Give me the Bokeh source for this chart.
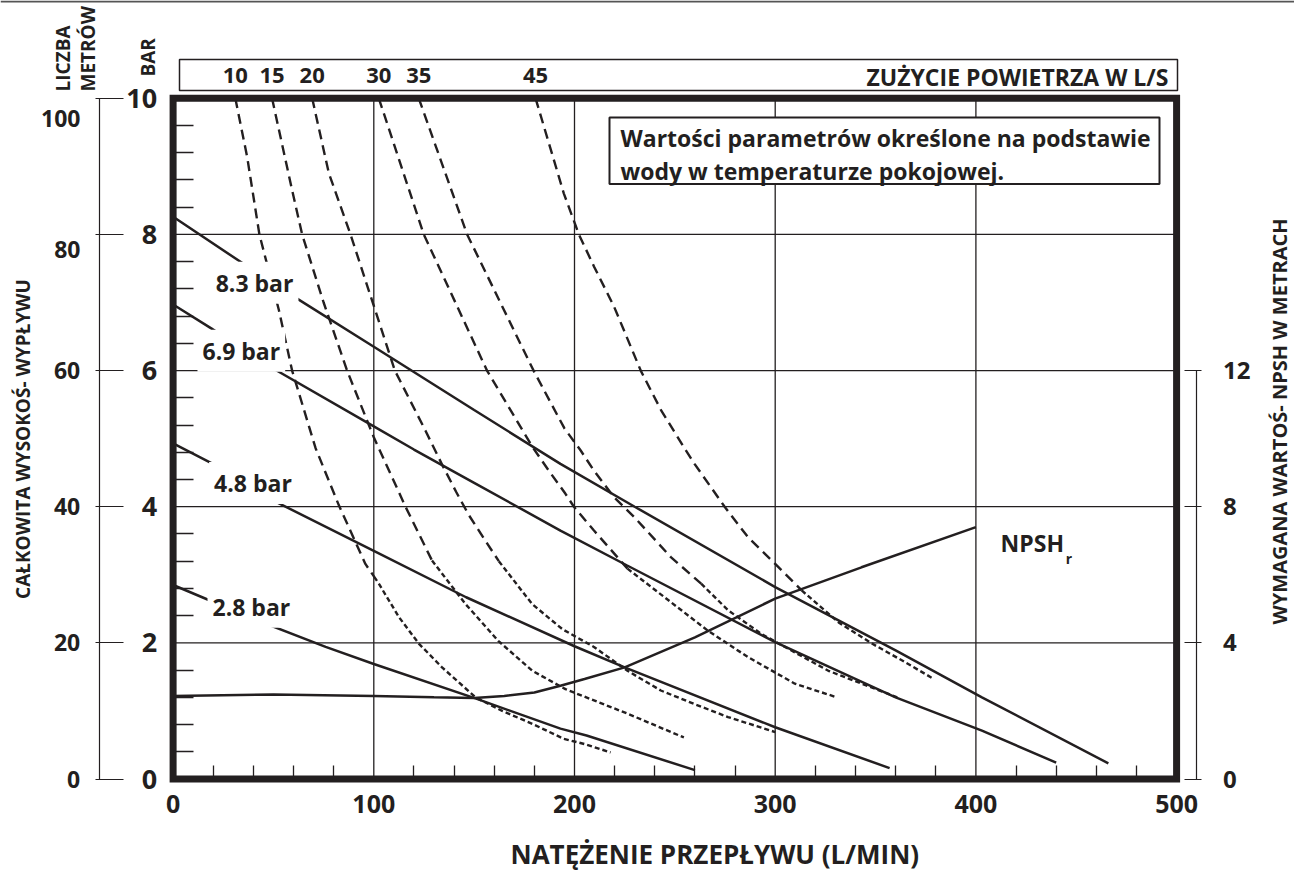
import math
from bokeh.plotting import figure
from bokeh.models import Range1d, LinearAxis, FixedTicker, Label, BoxAnnotation, Span
from bokeh.embed import file_html
from bokeh.resources import INLINE

INK = "#231f20"
FONT = "Open Sans"

# ---------------- data ----------------
x_ticks = [0, 100, 200, 300, 400, 500]
bar_ticks = [0, 2, 4, 6, 8, 10]
metre_ticks = [0, 20, 40, 60, 80, 100]
npsh_ticks = [0, 4, 8, 12]

pressure_labels = ["8.3 bar", "6.9 bar", "4.8 bar", "2.8 bar"]
flow_83 = [0, 36, 60, 100, 150, 193, 230, 300, 360, 403, 466]
head_83 = [8.26, 7.55, 7.09, 6.35, 5.42, 4.63, 4.00, 2.82, 1.89, 1.20, 0.23]
flow_69 = [0, 19, 44, 100, 120, 150, 193, 226, 300, 360, 403, 440]
head_69 = [6.97, 6.62, 6.13, 5.18, 4.84, 4.35, 3.65, 3.14, 2.01, 1.20, 0.71, 0.24]
flow_48 = [0, 21, 50, 100, 146, 200, 225, 300, 357]
head_48 = [4.93, 4.61, 4.09, 3.35, 2.67, 1.95, 1.64, 0.76, 0.16]
flow_28 = [0, 14.5, 38.5, 76, 100, 151, 193, 206, 260]
head_28 = [2.85, 2.67, 2.37, 1.94, 1.69, 1.18, 0.74, 0.64, 0.13]

air_values = [10, 15, 20, 30, 35, 45]  # air consumption, l/s
air_flow_10 = [31, 36.9, 43, 52.7, 59.3, 71, 82.6, 95.8, 102.5, 112.5, 122.4, 134, 150.7, 164, 179, 194.7, 205.5, 218]
air_head_10 = [10, 9.14, 8.0, 6.89, 6.0, 4.86, 4.02, 3.16, 2.87, 2.38, 1.99, 1.64, 1.20, 1.0, 0.81, 0.59, 0.51, 0.39]
air_flow_15 = [49.3, 59.3, 64.3, 75, 86.7, 100, 115.8, 129, 145.7, 162, 179, 195.5, 226.4, 254.5]
air_head_15 = [10, 8.65, 8.0, 7.0, 6.0, 5.02, 4.0, 3.21, 2.57, 2.03, 1.59, 1.32, 0.96, 0.61]
air_flow_20 = [69.3, 77.6, 88.4, 110.5, 125.7, 134, 141, 147.3, 155.6, 162.3, 178.9, 194, 209.7, 226.4, 243, 259.8, 276.5, 300]
air_head_20 = [10, 8.9, 8.0, 6.0, 5.12, 4.62, 4.22, 3.88, 3.5, 3.2, 2.57, 2.2, 1.94, 1.59, 1.30, 1.10, 0.91, 0.69]
air_flow_30 = [102.5, 124.9, 156.4, 179, 187.2, 195.5, 199.7, 209.7, 226.4, 266.4, 286.5, 309.8, 330.7]
air_head_30 = [10, 8.0, 6.0, 4.88, 4.53, 4.19, 4.0, 3.65, 3.09, 2.18, 1.79, 1.40, 1.20]
air_flow_35 = [122.4, 146.5, 179.6, 195, 203, 209.7, 219.7, 229.7, 248, 263.1, 276.5, 293.2, 309.8, 326.5, 343.2, 360.8]
air_head_35 = [10, 8.0, 6.0, 5.15, 4.83, 4.53, 4.14, 3.85, 3.26, 2.87, 2.48, 2.13, 1.86, 1.59, 1.40, 1.20]
air_flow_45 = [180.6, 194.7, 202.2, 209.7, 219.7, 233, 243.1, 254.8, 259.8, 274.8, 286.5, 300, 313.2, 331.6, 348.2, 363.3, 379]
air_head_45 = [10, 8.6, 8.0, 7.53, 6.94, 6.0, 5.42, 4.86, 4.63, 4.0, 3.55, 3.16, 2.77, 2.30, 1.99, 1.74, 1.47]

npsh_flow = [0, 50, 100, 130, 150, 165, 180, 193, 205, 225, 260, 300, 343, 400]
npsh_m = [2.44, 2.48, 2.44, 2.40, 2.38, 2.44, 2.54, 2.74, 2.94, 3.28, 4.16, 5.30, 6.22, 7.40]

# ---------------- page geometry (canvas pixels) ----------------
W, H = 1294, 873
PX_X, PX_Y = 2.007, 68.07      # pixels per L/min, pixels per bar
FX0, FY0 = 172.6, 778.5        # canvas position of flow 0 / head 0


def dx(px):
    return (px - FX0) / PX_X


def dy(py):
    return (FY0 - py) / PX_Y


y_lo, y_hi = dy(H), dy(0)
p = figure(width=W, height=H,
           x_range=Range1d(dx(0), dx(W)), y_range=Range1d(y_lo, y_hi),
           x_axis_location=None, y_axis_location=None,
           output_backend="svg", toolbar_location=None, min_border=0)
p.min_border_left = p.min_border_right = p.min_border_top = p.min_border_bottom = 0
p.background_fill_color = "white"
p.border_fill_color = "white"
p.outline_line_color = None
for g in p.grid:
    g.visible = False
p.extra_y_ranges = {"m": Range1d(10 * y_lo, 10 * y_hi), "npsh": Range1d(2 * y_lo, 2 * y_hi)}

# rule along the top of the page
p.add_layout(Span(location=dy(1), dimension="width", line_color="#555555", line_width=2))

# grid lines inside the chart frame
gx = x_ticks[1:-1]
gy = bar_ticks[1:-1]
p.segment(x0=gx, y0=[bar_ticks[0]] * len(gx), x1=gx, y1=[bar_ticks[-1]] * len(gx),
          line_color=INK, line_width=1.3)
p.segment(x0=[x_ticks[0]] * len(gy), y0=gy, x1=[x_ticks[-1]] * len(gy), y1=gy,
          line_color=INK, line_width=1.3)


def style_labels(ax, size):
    ax.major_label_text_font = FONT
    ax.major_label_text_font_style = "bold"
    ax.major_label_text_font_size = size
    ax.major_label_text_color = INK


# bottom axis (flow)
xax = LinearAxis(ticker=FixedTicker(ticks=x_ticks,
                                    minor_ticks=[v for v in range(20, 500, 20) if v % 100]),
                 fixed_location=bar_ticks[0], bounds=(x_ticks[0], x_ticks[-1]))
xax.axis_line_color = None
xax.major_tick_line_color = None
xax.minor_tick_in = 14
xax.minor_tick_out = 0
xax.minor_tick_line_color = INK
xax.minor_tick_line_width = 1.3
style_labels(xax, "25px")
xax.major_label_standoff = 10
p.add_layout(xax, "below")

# left axis (bar)
bax = LinearAxis(ticker=FixedTicker(ticks=bar_ticks,
                                    minor_ticks=[round(0.4 * i, 1) for i in range(1, 25) if i % 5]),
                 fixed_location=x_ticks[0], bounds=(bar_ticks[0], bar_ticks[-1]))
bax.axis_line_color = None
bax.major_tick_line_color = None
bax.minor_tick_in = 20
bax.minor_tick_out = 0
bax.minor_tick_line_color = INK
bax.minor_tick_line_width = 1.3
style_labels(bax, "27px")
bax.major_label_standoff = 10
p.add_layout(bax, "left")

# left axis (metres); the two top labels sit a little below their ticks
shifted = {100: 20, 80: 15}
m_over = {}
for k in shifted:
    m_over[float(k)] = ""
    m_over[str(k)] = ""
mx = LinearAxis(y_range_name="m", ticker=FixedTicker(ticks=metre_ticks),
                fixed_location=dx(98.7), bounds=(metre_ticks[0], metre_ticks[-1]),
                major_label_overrides=m_over)
mx.axis_line_color = INK
mx.axis_line_width = 1.2
mx.major_tick_in = 24
mx.major_tick_out = 4
mx.major_tick_line_color = INK
mx.major_tick_line_width = 1.2
mx.minor_tick_line_color = None
style_labels(mx, "23px")
mx.major_label_standoff = 15
mx.axis_label = "CAŁKOWITA WYSOKOŚ- WYPŁYWU"
mx.axis_label_text_font = FONT
mx.axis_label_text_font_style = "bold"
mx.axis_label_text_font_size = "19px"
mx.axis_label_text_color = INK
mx.axis_label_standoff = 15
p.add_layout(mx, "left")

# right axis (NPSH in metres)
nax = LinearAxis(y_range_name="npsh", ticker=FixedTicker(ticks=npsh_ticks),
                 fixed_location=dx(1195.5), bounds=(npsh_ticks[0], npsh_ticks[-1]))
nax.axis_line_color = INK
nax.axis_line_width = 1.2
nax.major_tick_in = 12
nax.major_tick_out = 5
nax.major_tick_line_color = INK
nax.major_tick_line_width = 1.2
nax.minor_tick_line_color = None
style_labels(nax, "24px")
nax.major_label_standoff = 22
p.add_layout(nax, "right")

# top: air consumption values at the top of each dashed curve
air_curves = [(air_flow_10, air_head_10), (air_flow_15, air_head_15), (air_flow_20, air_head_20),
              (air_flow_30, air_head_30), (air_flow_35, air_head_35), (air_flow_45, air_head_45)]
air_top = [c[0][0] for c in air_curves]
overrides = {}
for t, v in zip(air_top, air_values):
    overrides[float(t)] = str(v)
    overrides[("%g" % t)] = str(v)
aax = LinearAxis(ticker=FixedTicker(ticks=air_top), major_label_overrides=overrides,
                 fixed_location=bar_ticks[-1], bounds=(x_ticks[0], x_ticks[-1]))
aax.axis_line_color = None
aax.major_tick_line_color = None
aax.minor_tick_line_color = None
style_labels(aax, "22px")
aax.major_label_standoff = 9
p.add_layout(aax, "above")

# ---------------- curves ----------------
for xs, ys in air_curves:
    cut = next(i for i, y in enumerate(ys) if y < 2.6)
    p.line(xs[:cut], ys[:cut], line_color=INK, line_width=2.4, line_dash="10 6")
    p.line(xs[cut - 1:], ys[cut - 1:], line_color=INK, line_width=2.4, line_dash="5 3")

for xs, ys in [(flow_83, head_83), (flow_69, head_69), (flow_48, head_48), (flow_28, head_28)]:
    p.line(xs, ys, line_color=INK, line_width=2.5)

p.line(npsh_flow, npsh_m, y_range_name="npsh", line_color=INK, line_width=2.5)

# heavy chart frame
p.quad(left=x_ticks[0], right=x_ticks[-1], bottom=bar_ticks[0], top=bar_ticks[-1],
       fill_color=None, line_color=INK, line_width=7, line_join="miter")


# ---------------- annotations ----------------
def lab(x, y, text, size, **kw):
    opts = dict(text_font=FONT, text_font_style="bold", text_font_size=size,
                text_color=INK)
    opts.update(kw)
    p.add_layout(Label(x=x, y=y, text=text, **opts))


for k, off in shifted.items():
    lab(dx(80), dy(FY0 - k / 10 * PX_Y + off), str(k), "23px",
        text_align="right", text_baseline="middle")

for (x, y), t in zip([(40.6, 7.29), (34.0, 6.29), (39.8, 4.35), (39.0, 2.53)], pressure_labels):
    lab(x, y, t, "23px", text_align="center", text_baseline="middle",
        background_fill_color="white", padding=5)

lab(412.3, 3.46, "NPSH", "23px", text_align="left", text_baseline="middle")
lab(444.8, 3.24, "r", "14px", text_align="left", text_baseline="middle")

p.add_layout(BoxAnnotation(left=dx(609), right=dx(1159), bottom=dy(183.5), top=dy(117),
                           fill_color="white", fill_alpha=1.0,
                           line_color=INK, line_alpha=1.0, line_width=2))
lab(dx(620), dy(137), "Wartości parametrów określone na podstawie", "23px",
    text_align="left", text_baseline="middle")
lab(dx(620), dy(170), "wody w temperaturze pokojowej.", "23px",
    text_align="left", text_baseline="middle")

# box of the air consumption scale
p.add_layout(BoxAnnotation(left=dx(179), right=dx(1177), bottom=dy(90), top=dy(59),
                           fill_alpha=0, line_color=INK, line_alpha=1.0, line_width=1.5))
lab(dx(1168), dy(76.5), "ZUŻYCIE POWIETRZA W L/S", "23px", text_align="right", text_baseline="middle")

# axis captions
lab(dx(62.5), dy(91), "LICZBA", "19px", angle=math.pi / 2, text_align="left", text_baseline="middle")
lab(dx(87.5), dy(91), "METRÓW", "19px", angle=math.pi / 2, text_align="left", text_baseline="middle")
lab(dx(147.5), dy(76), "BAR", "19px", angle=math.pi / 2, text_align="left", text_baseline="middle")
lab(dx(1279), dy(421), "WYMAGANA WARTOŚ- NPSH W METRACH", "20px", angle=math.pi / 2,
    text_align="center", text_baseline="middle")
lab(dx(510), dy(853), "NATĘŻENIE PRZEPŁYWU (L/MIN)", "26px", text_align="left", text_baseline="middle")

open("out.html", "w").write(file_html(p, INLINE))
